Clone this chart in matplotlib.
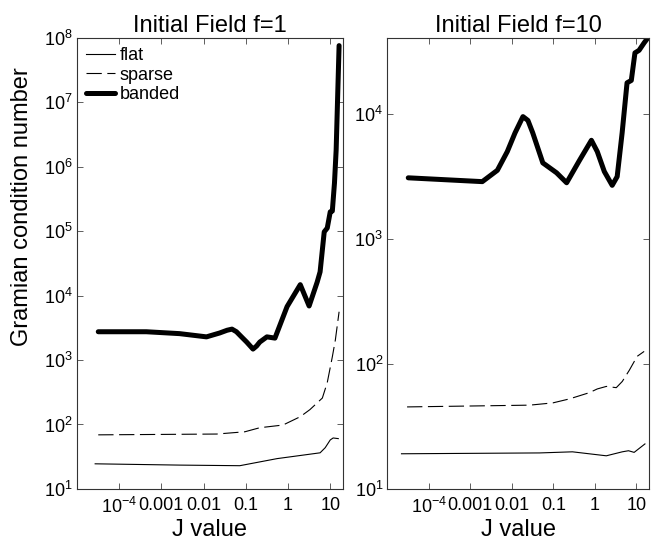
import numpy as np
import matplotlib
matplotlib.use("Agg")
import matplotlib.pyplot as plt

plt.rcParams['font.family'] = ['Liberation Sans', 'DejaVu Sans']
plt.rcParams['mathtext.default'] = 'regular'
plt.rcParams['axes.unicode_minus'] = False
plt.rcParams['lines.scale_dashes'] = False

# ---- data (J value vs Gramian condition number) ----
# Initial Field f=1
flat1_x = [2.7e-5, 2.7e-3, 0.072, 0.55, 5.75, 7.6, 10, 11.7, 15.5]
flat1_y = [24.5, 23.4, 22.9, 29.5, 36.3, 43.6, 57.5, 61.7, 60.3]
sparse1_x = [3.2e-5, 0.0204, 0.095, 0.214, 0.76, 1.95, 3.3, 6.5, 8.5, 11.2, 13.2, 16.2]
sparse1_y = [69, 71, 77, 89, 98, 132, 170, 257, 447, 1120, 2040, 5620]
banded1_x = [3.2e-5, 4.4e-4, 2.7e-3, 0.0117, 0.024, 0.036, 0.047, 0.06, 0.079,
             0.105, 0.148, 0.18, 0.214, 0.316, 0.49, 0.95, 1.95, 3.16, 4.9,
             5.75, 7.2, 8.5, 10, 11.2, 12.6, 13.8, 16.2]
banded1_y = [2750, 2750, 2570, 2290, 2630, 2900, 3020, 2750, 2290, 1900, 1480,
             1650, 1900, 2290, 2190, 6760, 14800, 6900, 16200, 23400, 97700,
             112000, 200000, 205000, 562000, 1.82e6, 7.6e7]

# Initial Field f=10
flat10_x = [2.2e-5, 0.047, 0.29, 1.9, 4.6, 6.5, 8.9, 16.2]
flat10_y = [19.1, 19.4, 19.8, 18.4, 19.8, 20.2, 19.6, 22.9]
sparse10_x = [3.0e-5, 0.027, 0.098, 0.245, 0.74, 1.15, 1.9, 3.3, 4.6, 6.8, 10.5, 15.5]
sparse10_y = [45.3, 46.8, 48.8, 52.5, 58.9, 63.1, 66.1, 64.6, 72.4, 89, 115, 126]
banded10_x = [3.2e-5, 1.95e-3, 4.5e-3, 7.8e-3, 0.012, 0.0186, 0.0245, 0.032,
              0.056, 0.12, 0.21, 0.43, 0.83, 1.15, 1.7, 2.63, 3.47, 4.57, 6.0,
              7.6, 9.3, 11.7, 15.5, 19]
banded10_y = [3090, 2880, 3550, 5010, 7080, 9550, 8900, 7080, 4070, 3390, 2820,
              4270, 6170, 5010, 3470, 2690, 3160, 7080, 17800, 18600, 30900,
              32400, 37200, 40700]

xticks = [1e-4, 1e-3, 1e-2, 1e-1, 1, 10]
xticklabels = ['$10^{-4}$', '0.001', '0.01', '0.1', '1', '10']
titles = ['Initial Field f=1', 'Initial Field f=10']

fig = plt.figure(figsize=(6.52, 5.42), dpi=100)
ax1 = fig.add_axes([0.118, 0.098, 0.408, 0.832])
ax2 = fig.add_axes([0.594, 0.098, 0.401, 0.832])

panels = [
    (ax1, flat1_x, flat1_y, sparse1_x, sparse1_y, banded1_x, banded1_y, (10, 1e8)),
    (ax2, flat10_x, flat10_y, sparse10_x, sparse10_y, banded10_x, banded10_y, (10, 40700)),
]

for i, (ax, fx, fy, sx, sy, bx, by, ylim) in enumerate(panels):
    ax.plot(fx, fy, color='black', lw=0.8, label='flat')
    ax.plot(sx, sy, color='black', lw=0.8, linestyle=(0, (11, 4)), label='sparse')
    ax.plot(bx, by, color='black', lw=3.6, solid_joinstyle='round',
            solid_capstyle='round', label='banded')
    ax.set_xscale('log')
    ax.set_yscale('log')
    ax.set_xlim(1e-5, 20)
    ax.set_ylim(*ylim)
    ax.set_xticks(xticks)
    ax.set_xticklabels(xticklabels)
    ax.minorticks_off()
    ax.tick_params(which='both', direction='in', top=True, right=True,
                   length=4, width=0.6, labelsize=13, color='#444444')
    ax.tick_params(axis='x', pad=6)
    ax.tick_params(axis='y', pad=3)
    for s in ax.spines.values():
        s.set_linewidth(0.8)
        s.set_color('#333333')
    ax.set_title(titles[i], fontsize=17, pad=4)
    ax.set_xlabel('J value', fontsize=17, labelpad=1)

ax1.set_ylabel('Gramian condition number', fontsize=17)
ax1.yaxis.set_label_coords(-0.165, 0.625)
ax1.legend(loc='upper left', frameon=False, fontsize=13, handlelength=1.6,
           handletextpad=0.25, labelspacing=0.15, borderaxespad=0.3,
           borderpad=0.2)

plt.savefig('out.png', dpi=100)
